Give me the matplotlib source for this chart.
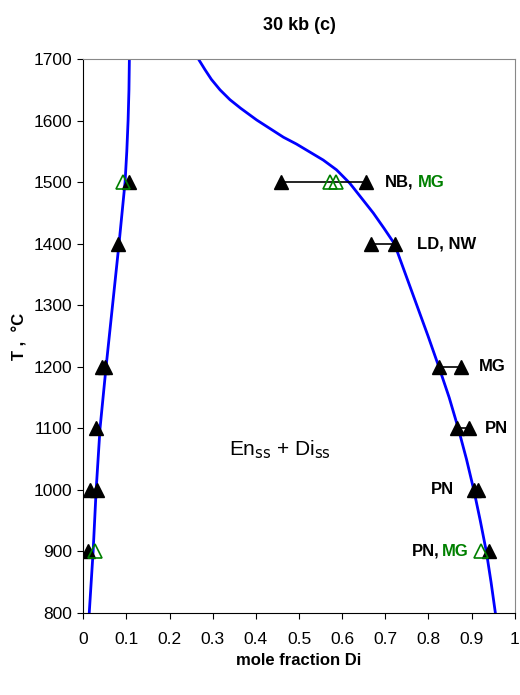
import numpy as np
import matplotlib.pyplot as plt

plt.rcParams['font.family'] = ['Liberation Sans Narrow', 'Liberation Sans', 'DejaVu Sans']
plt.rcParams['mathtext.fontset'] = 'custom'
plt.rcParams['mathtext.rm'] = 'Liberation Sans Narrow'

# phase boundaries
left_x = [0.014, 0.023, 0.030, 0.039, 0.053, 0.068, 0.083, 0.097, 0.101, 0.104, 0.106, 0.107]
left_t = [800, 900, 1000, 1100, 1200, 1300, 1400, 1500, 1550, 1600, 1650, 1700]
right_x = [0.267, 0.282, 0.297, 0.317, 0.340, 0.365, 0.402, 0.433, 0.464, 0.494, 0.525, 0.556,
           0.587, 0.618, 0.645, 0.672, 0.697, 0.721, 0.747, 0.773, 0.799, 0.824, 0.848, 0.869,
           0.888, 0.905, 0.920, 0.934, 0.945, 0.955]
right_t = [1700, 1683, 1667, 1650, 1634, 1620, 1601, 1587, 1573, 1562, 1549, 1536,
           1520, 1498, 1474, 1450, 1425, 1400, 1350, 1300, 1250, 1200, 1150, 1100,
           1050, 1000, 950, 900, 850, 800]

# experiments (black = filled, green = open)
black_x = [0.105, 0.081, 0.044, 0.051, 0.030, 0.016, 0.032, 0.012,
           0.458, 0.655, 0.667, 0.722, 0.824, 0.875, 0.866, 0.894, 0.905, 0.915, 0.94]
black_t = [1500, 1400, 1200, 1200, 1100, 1000, 1000, 900,
           1500, 1500, 1400, 1400, 1200, 1200, 1100, 1100, 1000, 1000, 900]
green_x = [0.093, 0.028, 0.572, 0.586, 0.921]
green_t = [1500, 900, 1500, 1500, 900]

# bracket lines between paired runs
pair_x = [(0.458, 0.655), (0.667, 0.722), (0.824, 0.875), (0.866, 0.894)]
pair_t = [1500, 1400, 1200, 1100]

fig = plt.figure(figsize=(5.2, 6.95), dpi=100)
ax = fig.add_axes([0.160, 0.118, 0.830, 0.797])

ax.plot(left_x, left_t, color='#0000ff', lw=2)
ax.plot(right_x, right_t, color='#0000ff', lw=2)

for (x0, x1), t in zip(pair_x, pair_t):
    ax.plot([x0, x1], [t, t], color='black', lw=1.2)

ax.plot(black_x, black_t, '^', color='black', ms=10, ls='none')
ax.plot(green_x, green_t, '^', mec='#008000', mfc='none', mew=1.2, ms=10, ls='none')

green = '#008000'
lab = dict(fontsize=12, fontweight='bold', va='center')
ax.text(0.70, 1500, 'NB,', color='black', **lab)
ax.text(0.775, 1500, 'MG', color=green, **lab)
ax.text(0.773, 1400, 'LD, NW', color='black', **lab)
ax.text(0.917, 1200, 'MG', color='black', **lab)
ax.text(0.93, 1100, 'PN', color='black', **lab)
ax.text(0.805, 1000, 'PN', color='black', **lab)
ax.text(0.762, 900, 'PN,', color='black', **lab)
ax.text(0.83, 900, 'MG', color=green, **lab)

ax.text(0.455, 1065, r'En$_{\rm ss}$ + Di$_{\rm ss}$', fontsize=15, ha='center', va='center')

ax.set_xlim(0, 1)
ax.set_ylim(800, 1700)
ax.set_xticks(np.arange(0, 1.01, 0.1))
ax.set_xticklabels(['0', '0.1', '0.2', '0.3', '0.4', '0.5', '0.6', '0.7', '0.8', '0.9', '1'])
ax.set_yticks(np.arange(800, 1701, 100))
ax.tick_params(direction='out', length=4, labelsize=12.5, pad=10)
ax.tick_params(axis='y', pad=4)
for s in ['top', 'right']:
    ax.spines[s].set_color('#888888')
ax.tick_params(top=False, right=False)

ax.set_xlabel('mole fraction Di', fontsize=12, fontweight='bold', labelpad=4)
ax.set_ylabel('T ,  °C', fontsize=12, fontweight='bold', labelpad=4)
ax.set_title('30 kb (c)', fontsize=13, fontweight='bold', pad=21)

fig.savefig('out.png', dpi=100)
